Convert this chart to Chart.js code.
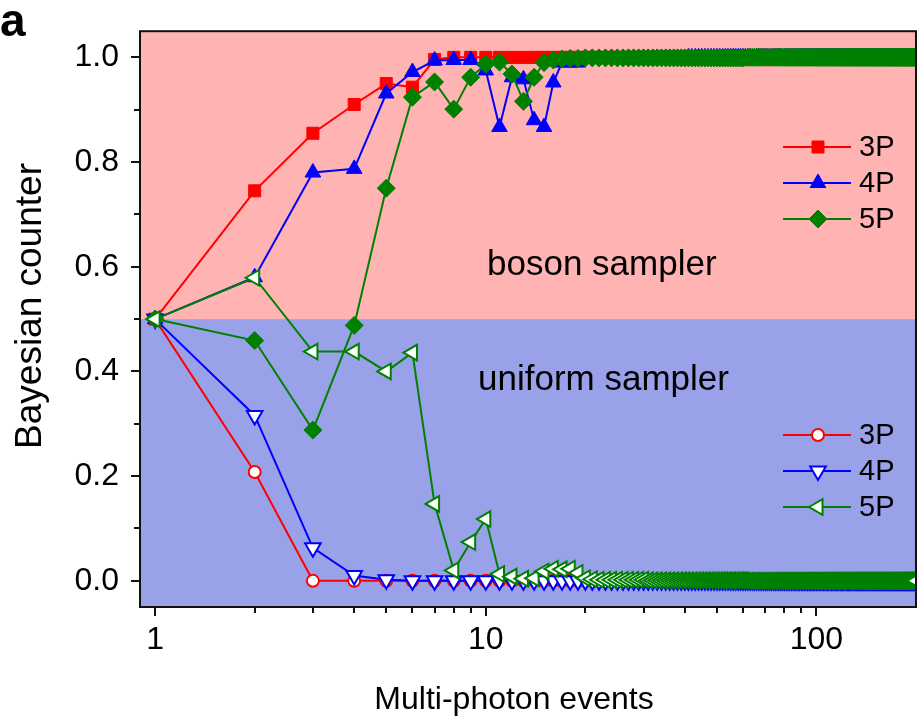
<!DOCTYPE html>
<html>
<head>
<meta charset="utf-8">
<title>Bayesian counter</title>
<script src="https://cdn.jsdelivr.net/npm/chart.js@4.4.1/dist/chart.umd.min.js"></script>
<style>
    html, body { margin: 0; padding: 0; background: #fff; }
    #wrap { width: 918px; height: 721px; }
</style>
</head>
<body>
<div id="wrap"><canvas id="bayes-chart" width="918" height="721"></canvas></div>
<script>
// Multi-photon events (x values)
const events = [
    1, 2, 3, 4, 5, 6, 7, 8, 9, 10, 11, 12, 13, 14, 15, 16, 17, 18, 19, 20,
    21, 22, 23, 24, 25, 26, 27, 28, 29, 30, 31, 32, 33, 34, 35, 36, 37, 38, 39, 40,
    41, 42, 43, 44, 45, 46, 47, 48, 49, 50, 51, 52, 53, 54, 55, 56, 57, 58, 59, 60,
    61, 62, 63, 64, 65, 66, 67, 68, 69, 70, 71, 72, 73, 74, 75, 76, 77, 78, 79, 80,
    81, 82, 83, 84, 85, 86, 87, 88, 89, 90, 91, 92, 93, 94, 95, 96, 97, 98, 99, 100,
    101, 102, 103, 104, 105, 106, 107, 108, 109, 110, 111, 112, 113, 114, 115, 116, 117, 118, 119, 120,
    121, 122, 123, 124, 125, 126, 127, 128, 129, 130, 131, 132, 133, 134, 135, 136, 137, 138, 139, 140,
    141, 142, 143, 144, 145, 146, 147, 148, 149, 150, 151, 152, 153, 154, 155, 156, 157, 158, 159, 160,
    161, 162, 163, 164, 165, 166, 167, 168, 169, 170, 171, 172, 173, 174, 175, 176, 177, 178, 179, 180,
    181, 182, 183, 184, 185, 186, 187, 188, 189, 190, 191, 192, 193, 194, 195, 196, 197, 198, 199, 200
];

// Boson sampler data
const boson3P = [
    0.5, 0.745, 0.855, 0.91, 0.95, 0.943, 0.996, 1, 1, 1, 1, 1, 1, 1, 1, 1, 1, 1, 1, 1,
    1, 1, 1, 1, 1, 1, 1, 1, 1, 1, 1, 1, 1, 1, 1, 1, 1, 1, 1, 1,
    1, 1, 1, 1, 1, 1, 1, 1, 1, 1, 1, 1, 1, 1, 1, 1, 1, 1, 1, 1,
    1, 1, 1, 1, 1, 1, 1, 1, 1, 1, 1, 1, 1, 1, 1, 1, 1, 1, 1, 1,
    1, 1, 1, 1, 1, 1, 1, 1, 1, 1, 1, 1, 1, 1, 1, 1, 1, 1, 1, 1,
    1, 1, 1, 1, 1, 1, 1, 1, 1, 1, 1, 1, 1, 1, 1, 1, 1, 1, 1, 1,
    1, 1, 1, 1, 1, 1, 1, 1, 1, 1, 1, 1, 1, 1, 1, 1, 1, 1, 1, 1,
    1, 1, 1, 1, 1, 1, 1, 1, 1, 1, 1, 1, 1, 1, 1, 1, 1, 1, 1, 1,
    1, 1, 1, 1, 1, 1, 1, 1, 1, 1, 1, 1, 1, 1, 1, 1, 1, 1, 1, 1,
    1, 1, 1, 1, 1, 1, 1, 1, 1, 1, 1, 1, 1, 1, 1, 1, 1, 1, 1, 1
];
const boson4P = [
    0.5, 0.58, 0.78, 0.787, 0.931, 0.972, 0.994, 0.995, 0.995, 0.975, 0.867, 0.962, 0.958, 0.88, 0.867, 0.952, 0.99, 0.99, 0.99, 0.997,
    0.998, 0.998, 0.998, 0.998, 0.998, 0.998, 0.998, 0.998, 0.998, 0.998, 0.998, 0.998, 0.998, 0.998, 0.998, 0.998, 0.998, 0.998, 0.998, 0.998,
    1, 1, 1, 1, 1, 1, 1, 1, 1, 1, 1, 1, 1, 1, 1, 1, 1, 1, 1, 1,
    1, 1, 1, 1, 1, 1, 1, 1, 1, 1, 1, 1, 1, 1, 1, 1, 1, 1, 1, 1,
    1, 1, 1, 1, 1, 1, 1, 1, 1, 1, 1, 1, 1, 1, 1, 1, 1, 1, 1, 1,
    1, 1, 1, 1, 1, 1, 1, 1, 1, 1, 1, 1, 1, 1, 1, 1, 1, 1, 1, 1,
    1, 1, 1, 1, 1, 1, 1, 1, 1, 1, 1, 1, 1, 1, 1, 1, 1, 1, 1, 1,
    1, 1, 1, 1, 1, 1, 1, 1, 1, 1, 1, 1, 1, 1, 1, 1, 1, 1, 1, 1,
    1, 1, 1, 1, 1, 1, 1, 1, 1, 1, 1, 1, 1, 1, 1, 1, 1, 1, 1, 1,
    1, 1, 1, 1, 1, 1, 1, 1, 1, 1, 1, 1, 1, 1, 1, 1, 1, 1, 1, 1
];
const boson5P = [
    0.5, 0.459, 0.288, 0.488, 0.75, 0.924, 0.953, 0.901, 0.962, 0.987, 0.991, 0.968, 0.916, 0.962, 0.99, 0.995, 0.997, 0.998, 0.998, 0.999,
    0.999, 0.999, 0.999, 0.999, 0.999, 0.999, 0.999, 0.999, 0.999, 0.999, 0.999, 0.999, 0.999, 0.999, 0.999, 0.999, 0.999, 0.999, 0.999, 0.999,
    0.999, 0.999, 0.999, 0.999, 0.999, 0.999, 0.999, 0.999, 0.999, 0.999, 0.999, 0.999, 0.999, 0.999, 0.999, 0.999, 0.999, 0.999, 0.999, 0.999,
    1, 1, 1, 1, 1, 1, 1, 1, 1, 1, 1, 1, 1, 1, 1, 1, 1, 1, 1, 1,
    1, 1, 1, 1, 1, 1, 1, 1, 1, 1, 1, 1, 1, 1, 1, 1, 1, 1, 1, 1,
    1, 1, 1, 1, 1, 1, 1, 1, 1, 1, 1, 1, 1, 1, 1, 1, 1, 1, 1, 1,
    1, 1, 1, 1, 1, 1, 1, 1, 1, 1, 1, 1, 1, 1, 1, 1, 1, 1, 1, 1,
    1, 1, 1, 1, 1, 1, 1, 1, 1, 1, 1, 1, 1, 1, 1, 1, 1, 1, 1, 1,
    1, 1, 1, 1, 1, 1, 1, 1, 1, 1, 1, 1, 1, 1, 1, 1, 1, 1, 1, 1,
    1, 1, 1, 1, 1, 1, 1, 1, 1, 1, 1, 1, 1, 1, 1, 1, 1, 1, 1, 1
];

// Uniform sampler data
const uniform3P = [
    0.5, 0.208, 0, 0, 0, 0, 0, 0, 0, 0, 0, 0, 0, 0, 0, 0, 0, 0, 0, 0,
    0, 0, 0, 0, 0, 0, 0, 0, 0, 0, 0, 0, 0, 0, 0, 0, 0, 0, 0, 0,
    0, 0, 0, 0, 0, 0, 0, 0, 0, 0, 0, 0, 0, 0, 0, 0, 0, 0, 0, 0,
    0, 0, 0, 0, 0, 0, 0, 0, 0, 0, 0, 0, 0, 0, 0, 0, 0, 0, 0, 0,
    0, 0, 0, 0, 0, 0, 0, 0, 0, 0, 0, 0, 0, 0, 0, 0, 0, 0, 0, 0,
    0, 0, 0, 0, 0, 0, 0, 0, 0, 0, 0, 0, 0, 0, 0, 0, 0, 0, 0, 0,
    0, 0, 0, 0, 0, 0, 0, 0, 0, 0, 0, 0, 0, 0, 0, 0, 0, 0, 0, 0,
    0, 0, 0, 0, 0, 0, 0, 0, 0, 0, 0, 0, 0, 0, 0, 0, 0, 0, 0, 0,
    0, 0, 0, 0, 0, 0, 0, 0, 0, 0, 0, 0, 0, 0, 0, 0, 0, 0, 0, 0,
    0, 0, 0, 0, 0, 0, 0, 0, 0, 0, 0, 0, 0, 0, 0, 0, 0, 0, 0, 0
];
const uniform4P = [
    0.5, 0.316, 0.063, 0.01, 0.002, 0, 0, 0, 0, 0, 0, 0, 0, 0, 0, 0, 0, 0, 0, 0,
    0, 0, 0, 0, 0, 0, 0, 0, 0, 0, 0, 0, 0, 0, 0, 0, 0, 0, 0, 0,
    0, 0, 0, 0, 0, 0, 0, 0, 0, 0, 0, 0, 0, 0, 0, 0, 0, 0, 0, 0,
    0, 0, 0, 0, 0, 0, 0, 0, 0, 0, 0, 0, 0, 0, 0, 0, 0, 0, 0, 0,
    0, 0, 0, 0, 0, 0, 0, 0, 0, 0, 0, 0, 0, 0, 0, 0, 0, 0, 0, 0,
    0, 0, 0, 0, 0, 0, 0, 0, 0, 0, 0, 0, 0, 0, 0, 0, 0, 0, 0, 0,
    0, 0, 0, 0, 0, 0, 0, 0, 0, 0, 0, 0, 0, 0, 0, 0, 0, 0, 0, 0,
    0, 0, 0, 0, 0, 0, 0, 0, 0, 0, 0, 0, 0, 0, 0, 0, 0, 0, 0, 0,
    0, 0, 0, 0, 0, 0, 0, 0, 0, 0, 0, 0, 0, 0, 0, 0, 0, 0, 0, 0,
    0, 0, 0, 0, 0, 0, 0, 0, 0, 0, 0, 0, 0, 0, 0, 0, 0, 0, 0, 0
];
const uniform5P = [
    0.5, 0.579, 0.438, 0.438, 0.4, 0.436, 0.147, 0.02, 0.074, 0.118, 0.013, 0.008, 0.004, 0.005, 0.018, 0.023, 0.022, 0.023, 0.015, 0.005,
    0.003, 0.002, 0.002, 0.002, 0.002, 0.002, 0.002, 0.002, 0.002, 0.002, 0.001, 0.001, 0.001, 0.001, 0.001, 0.001, 0.001, 0.001, 0.001, 0.001,
    0.001, 0.001, 0.001, 0.001, 0.001, 0.001, 0.001, 0.001, 0.001, 0.001, 0.001, 0.001, 0.001, 0.001, 0.001, 0.001, 0.001, 0.001, 0.001, 0.001,
    0, 0, 0, 0, 0, 0, 0, 0, 0, 0, 0, 0, 0, 0, 0, 0, 0, 0, 0, 0,
    0, 0, 0, 0, 0, 0, 0, 0, 0, 0, 0, 0, 0, 0, 0, 0, 0, 0, 0, 0,
    0, 0, 0, 0, 0, 0, 0, 0, 0, 0, 0, 0, 0, 0, 0, 0, 0, 0, 0, 0,
    0, 0, 0, 0, 0, 0, 0, 0, 0, 0, 0, 0, 0, 0, 0, 0, 0, 0, 0, 0,
    0, 0, 0, 0, 0, 0, 0, 0, 0, 0, 0, 0, 0, 0, 0, 0, 0, 0, 0, 0,
    0, 0, 0, 0, 0, 0, 0, 0, 0, 0, 0, 0, 0, 0, 0, 0, 0, 0, 0, 0,
    0, 0, 0, 0, 0, 0, 0, 0, 0, 0, 0, 0, 0, 0, 0, 0, 0, 0, 0, 0
];

// Tick values and labels
const xMajorTicks = [1, 10, 100];
const xTickLabels = ['1', '10', '100'];
const xMinorTicks = [2, 3, 4, 5, 6, 7, 8, 9, 20, 30, 40, 50, 60, 70, 80, 90];
const yMajorTicks = [0, 0.2, 0.4, 0.6, 0.8, 1.0];
const yTickLabels = ['0.0', '0.2', '0.4', '0.6', '0.8', '1.0'];
const yMinorTicks = [0.1, 0.3, 0.5, 0.7, 0.9];
const seriesLabels = ['3P', '4P', '5P'];

const RED = '#ff0000';
const BLUE = '#0000ff';
const GREEN = '#008000';
const FONT = "'Liberation Sans', Arial, Helvetica, sans-serif";

Chart.defaults.font.family = FONT;
Chart.defaults.color = '#000';

function toPoints(values) {
    return events.map((e, i) => ({ x: e, y: values[i] }));
}

// dataset styles: filled markers for boson, open for uniform
function makeDataset(label, values, color, style, opts) {
    return Object.assign({
        label: label,
        data: toPoints(values),
        borderColor: color,
        backgroundColor: color,
        borderWidth: 2,
        pointStyle: style,
        pointRadius: 8.5,
        pointBorderWidth: 1,
        pointBorderColor: color,
        pointBackgroundColor: color,
        pointRotation: 0,
        tension: 0,
        clip: 0,
        showLine: true
    }, opts || {});
}

const datasets = [
    makeDataset('3P', boson3P, RED, 'rect', { order: 5 }),
    makeDataset('4P', boson4P, BLUE, 'triangle', { order: 3, pointRadius: 9 }),
    makeDataset('5P', boson5P, GREEN, 'rectRot', { order: 1, pointRadius: 9 }),
    makeDataset('3P', uniform3P, RED, 'circle', { order: 4, pointRadius: 6, pointBorderWidth: 2, pointBackgroundColor: '#fff' }),
    makeDataset('4P', uniform4P, BLUE, 'triangle', { order: 2, pointRadius: 9, pointRotation: 180, pointBorderWidth: 2, pointBackgroundColor: '#fff' }),
    makeDataset('5P', uniform5P, GREEN, 'triangle', { order: 0, pointRadius: 9, pointRotation: -90, pointBorderWidth: 2, pointBackgroundColor: '#fff' })
];

// Draw one legend marker the way Chart.js draws its point styles
function drawMarker(ctx, style, x, y, r, rotation) {
    const rad = rotation * Math.PI / 180;
    ctx.beginPath();
    if (style === 'circle') {
        ctx.arc(x, y, r, 0, Math.PI * 2);
    } else if (style === 'rect') {
        const s = Math.SQRT1_2 * r;
        ctx.rect(x - s, y - s, 2 * s, 2 * s);
    } else if (style === 'rectRot') {
        ctx.moveTo(x - r, y);
        ctx.lineTo(x, y - r);
        ctx.lineTo(x + r, y);
        ctx.lineTo(x, y + r);
    } else if (style === 'triangle') {
        let a = rad;
        ctx.moveTo(x + Math.sin(a) * r, y - Math.cos(a) * r);
        a += Math.PI * 2 / 3;
        ctx.lineTo(x + Math.sin(a) * r, y - Math.cos(a) * r);
        a += Math.PI * 2 / 3;
        ctx.lineTo(x + Math.sin(a) * r, y - Math.cos(a) * r);
    }
    ctx.closePath();
    ctx.fill();
    ctx.stroke();
}

// Pink / blue halves behind the data
const backgroundPlugin = {
    id: 'halves',
    beforeDatasetsDraw(chart) {
        const { ctx, chartArea: a, scales: { y } } = chart;
        const mid = y.getPixelForValue(0.5);
        ctx.save();
        ctx.fillStyle = '#ffb3b3';
        ctx.fillRect(a.left, a.top, a.right - a.left, mid - a.top);
        ctx.fillStyle = '#99a1e8';
        ctx.fillRect(a.left, mid, a.right - a.left, a.bottom - mid);
        ctx.restore();
    }
};

// Frame, tick marks, legends and texts
const decorPlugin = {
    id: 'decor',
    afterDraw(chart) {
        const { ctx, chartArea: a, scales: { x, y } } = chart;
        ctx.save();

        ctx.strokeStyle = '#111';
        ctx.lineWidth = 2;
        ctx.strokeRect(a.left, a.top, a.right - a.left, a.bottom - a.top);

        ctx.beginPath();
        yMajorTicks.concat(yMinorTicks).forEach(v => {
            const py = Math.round(y.getPixelForValue(v));
            const len = yMajorTicks.includes(v) ? 9 : 6;
            ctx.moveTo(a.left - len, py);
            ctx.lineTo(a.left, py);
        });
        xMajorTicks.concat(xMinorTicks).forEach(v => {
            const px = Math.round(x.getPixelForValue(v));
            const len = xMajorTicks.includes(v) ? 9 : 6;
            ctx.moveTo(px, a.bottom);
            ctx.lineTo(px, a.bottom + len);
        });
        ctx.stroke();

        // legends: boson (top) and uniform (bottom)
        const legendRows = [
            { sets: [0, 1, 2], top: 147 },
            { sets: [3, 4, 5], top: 435 }
        ];
        ctx.font = '29px ' + FONT;
        ctx.textBaseline = 'middle';
        ctx.textAlign = 'left';
        legendRows.forEach(group => {
            group.sets.forEach((di, k) => {
                const ds = datasets[di];
                const ly = group.top + k * 36;
                ctx.strokeStyle = ds.borderColor;
                ctx.lineWidth = 2;
                ctx.beginPath();
                ctx.moveTo(783, ly);
                ctx.lineTo(851, ly);
                ctx.stroke();
                ctx.fillStyle = ds.pointBackgroundColor;
                ctx.strokeStyle = ds.pointBorderColor;
                ctx.lineWidth = ds.pointBorderWidth;
                drawMarker(ctx, ds.pointStyle, 818, ly, ds.pointRadius, ds.pointRotation);
                ctx.fillStyle = '#000';
                ctx.fillText(seriesLabels[k], 859, ly + 1);
            });
        });

        ctx.fillStyle = '#000';
        ctx.font = '35px ' + FONT;
        ctx.textAlign = 'left';
        ctx.fillText('boson sampler', 487, 265);
        ctx.fillText('uniform sampler', 478, 380);

        ctx.font = '32px ' + FONT;
        ctx.textAlign = 'center';
        ctx.fillText('Multi-photon events', 514, 700);

        ctx.font = '37px ' + FONT;
        ctx.translate(31, 306);
        ctx.rotate(-Math.PI / 2);
        ctx.fillText('Bayesian counter', 0, 0);
        ctx.setTransform(1, 0, 0, 1, 0, 0);

        ctx.font = 'bold 46px ' + FONT;
        ctx.textAlign = 'left';
        ctx.fillText('a', 0, 23);

        ctx.restore();
    }
};

new Chart(document.getElementById('bayes-chart'), {
    type: 'scatter',
    data: { datasets: datasets },
    options: {
        responsive: false,
        animation: false,
        devicePixelRatio: 1,
        // no auto padding: markers at the right edge are clipped by the frame
        layout: { autoPadding: false, padding: { top: 31, right: 2, left: 0, bottom: 0 } },
        plugins: {
            legend: { display: false },
            tooltip: { enabled: false }
        },
        scales: {
            x: {
                type: 'logarithmic',
                min: 0.9,
                max: 200,
                border: { display: false },
                grid: { drawOnChartArea: false, drawTicks: true, tickLength: 9, color: 'rgba(0,0,0,0)' },
                ticks: {
                    autoSkip: false,
                    maxRotation: 0,
                    padding: 5,
                    font: { size: 32 },
                    color: '#000',
                    callback: (value) => {
                        const i = xMajorTicks.indexOf(value);
                        return i >= 0 ? xTickLabels[i] : '';
                    }
                },
                afterBuildTicks: (scale) => {
                    scale.ticks = xMajorTicks.concat(xMinorTicks).sort((p, q) => p - q).map(v => ({ value: v }));
                },
                afterFit: (scale) => { scale.height = 114; }
            },
            y: {
                type: 'linear',
                min: -0.05,
                max: 1.05,
                border: { display: false },
                grid: { drawOnChartArea: false, drawTicks: true, tickLength: 9, color: 'rgba(0,0,0,0)' },
                ticks: {
                    autoSkip: false,
                    padding: 12,
                    font: { size: 32 },
                    color: '#000',
                    callback: (value) => {
                        const i = yMajorTicks.findIndex(v => Math.abs(v - value) < 1e-9);
                        return i >= 0 ? yTickLabels[i] : '';
                    }
                },
                afterBuildTicks: (scale) => {
                    scale.ticks = yMajorTicks.concat(yMinorTicks).sort((p, q) => p - q).map(v => ({ value: v }));
                },
                afterFit: (scale) => { scale.width = 140; }
            }
        }
    },
    plugins: [backgroundPlugin, decorPlugin]
});
</script>
</body>
</html>
